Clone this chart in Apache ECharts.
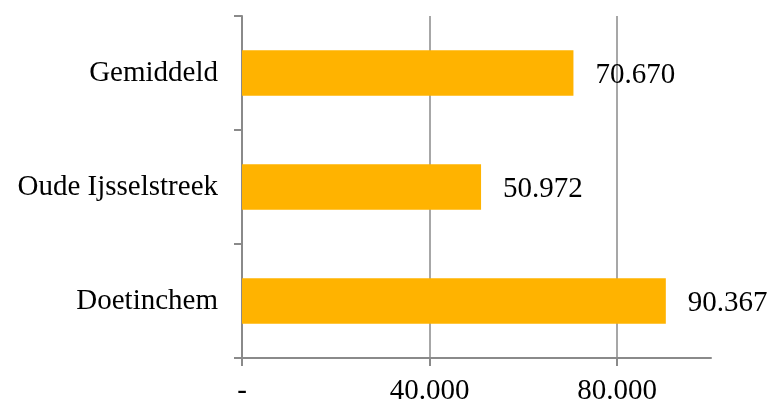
<!DOCTYPE html>
<html>
<head>
<meta charset="utf-8">
<script src="https://cdn.jsdelivr.net/npm/echarts@6/dist/echarts.min.js"></script>
<style>html,body{margin:0;padding:0;background:#fff}#c{width:771px;height:402px}</style>
</head>
<body>
<div id="c"></div>
<script>
const categories = ['Doetinchem', 'Oude Ijsselstreek', 'Gemiddeld'];
const values = [90367, 50972, 70670];
const tickValues = [0, 40000, 80000];
const axisMax = 100000;

function fmt(v) {
  if (v === 0) return '-';
  return String(Math.round(v)).replace(/\B(?=(\d{3})+(?!\d))/g, '.');
}

const FONT = 'Liberation Serif';
const LINE = '#8a8a8a';
const chart = echarts.init(document.getElementById('c'), null, {renderer: 'canvas'});
chart.setOption({
  animation: false,
  grid: {left: 242, right: 60, top: 16, bottom: 44, containLabel: false, outerBoundsMode: 'none'},
  xAxis: {
    type: 'value', min: 0, max: axisMax, interval: 40000,
    axisLine: {show: true, lineStyle: {color: LINE, width: 2}},
    axisTick: {show: true, length: 8, customValues: tickValues, lineStyle: {color: LINE, width: 2}},
    splitLine: {show: true, lineStyle: {color: LINE, width: 1.5}},
    axisLabel: {customValues: tickValues, formatter: fmt, color: '#000', fontFamily: FONT, fontSize: 29, margin: 19}
  },
  yAxis: {
    type: 'category', data: categories,
    axisLine: {show: true, lineStyle: {color: LINE, width: 2}},
    axisTick: {show: true, length: 8, inside: false, alignWithLabel: false, lineStyle: {color: LINE, width: 2}},
    axisLabel: {color: '#000', fontFamily: FONT, fontSize: 29, margin: 24}
  },
  series: [{
    type: 'bar', data: values, barWidth: '40%',
    itemStyle: {color: '#FFB300'},
    label: {show: true, position: 'right', distance: 22, offset: [0, 2], formatter: p => fmt(p.value), color: '#000', fontFamily: FONT, fontSize: 29}
  }]
});
</script>
</body>
</html>
